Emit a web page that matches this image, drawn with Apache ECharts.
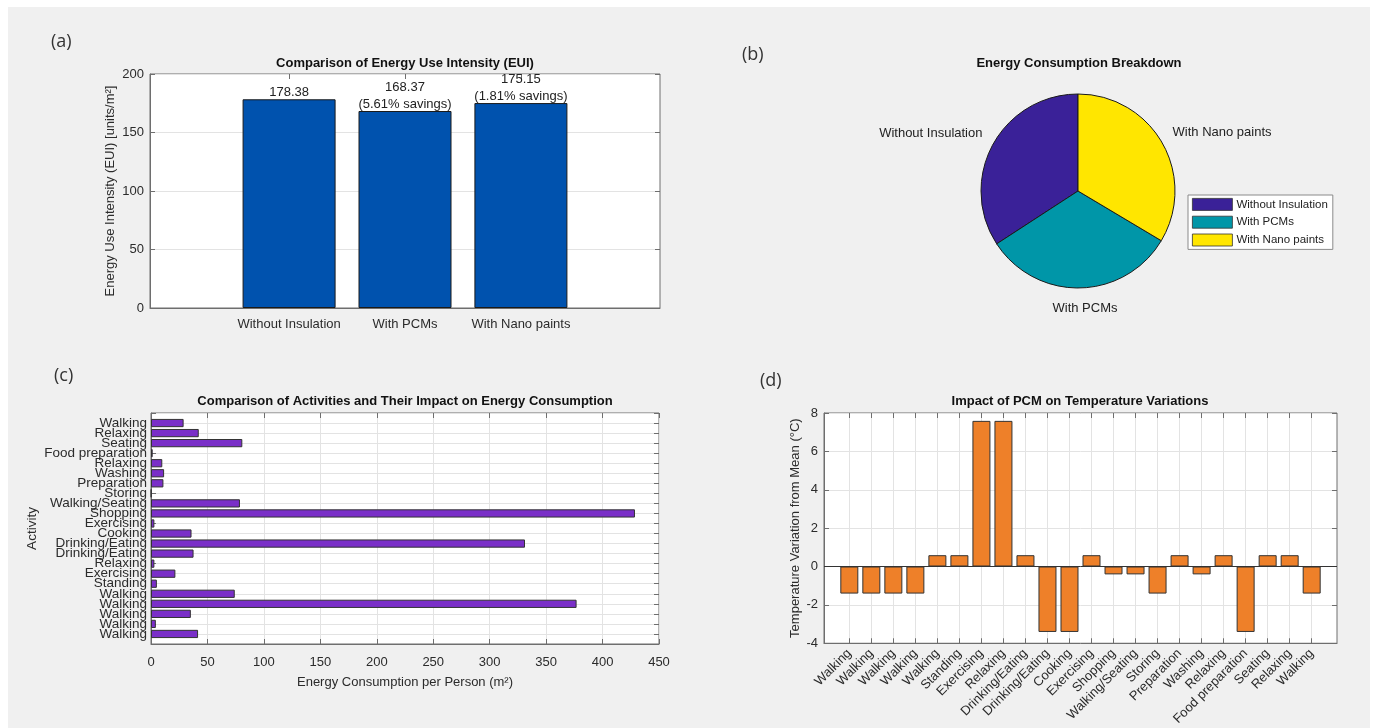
<!DOCTYPE html>
<html>
<head>
<meta charset="utf-8">
<script src="https://cdn.jsdelivr.net/npm/echarts@6/dist/echarts.min.js"></script>
<style>
  html, body { margin: 0; padding: 0; background: #ffffff; }
  #bg { position: absolute; left: 8px; top: 7px; width: 1362px; height: 721px; background: #f0f0f0; }
  #chart { position: absolute; left: 0; top: 0; width: 1373px; height: 728px; }
</style>
</head>
<body>
<div id="bg"></div>
<div id="chart"></div>
<script>
// ---------- data ----------
const euiCategories = ['Without Insulation', 'With PCMs', 'With Nano paints'];
const euiValues = [178.38, 168.37, 175.15];
const euiAxis = [0, 200, 50];            // min, max, interval

const activities = ['Walking', 'Walking', 'Walking', 'Walking', 'Walking', 'Standing',
  'Exercising', 'Relaxing', 'Drinking/Eating', 'Drinking/Eating', 'Cooking', 'Exercising',
  'Shopping', 'Walking/Seating', 'Storing', 'Preparation', 'Washing', 'Relaxing',
  'Food preparation', 'Seating', 'Relaxing', 'Walking'];
const energyPerPerson = [41.7, 4.3, 35.3, 377, 74.2, 5.2, 21.6, 3, 37.7, 331.3, 35.9, 3,
  428.7, 78.8, 0.3, 11, 11.6, 10, 1.5, 80.9, 42.3, 28.9];
const energyAxis = [0, 450, 50];

const tempVariation = [-1.41, -1.41, -1.41, -1.41, 0.59, 0.59, 7.59, 7.59, 0.59, -3.41, -3.41,
  0.59, -0.41, -0.41, -1.41, 0.59, -0.41, 0.59, -3.41, 0.59, 0.59, -1.41];
const tempAxis = [-4, 8, 2];

// ---------- styling ----------
const FONT = 'Liberation Sans, Arial, Helvetica, sans-serif';
const TXT = '#2b2b2b';
const AX = '#6e6e6e';
const GRIDC = '#e3e3e3';

const euiPos = euiCategories.map((_, i) => i + 1);
const actPos = activities.map((_, i) => i + 1);
const paddedActs = [''].concat(activities, ['']);
const paddedEnergy = [null].concat(energyPerPerson, [null]);

function tickStyle() { return { show: true, inside: true, length: 5, lineStyle: { color: AX } }; }
function axLine(show) { return { show: show, onZero: false, lineStyle: { color: AX } }; }

const chart = echarts.init(document.getElementById('chart'), null, { renderer: 'canvas' });

const panelFont = { fontSize: 18, fontWeight: 'normal', color: '#333', fontFamily: 'Open Sans, ' + FONT };
const titleFont = { fontSize: 13, fontWeight: 'bold', color: '#111', fontFamily: FONT };

const option = {
  backgroundColor: 'transparent',
  textStyle: { fontFamily: FONT },
  animation: false,
  title: [
    { text: '(a)', left: 51, top: 33, padding: 0, textStyle: panelFont },
    { text: 'Comparison of Energy Use Intensity (EUI)', left: 405, top: 57, padding: 0, textAlign: 'center', textStyle: titleFont },
    { text: '(b)', left: 742, top: 46, padding: 0, textStyle: panelFont },
    { text: 'Energy Consumption Breakdown', left: 1079, top: 57, padding: 0, textAlign: 'center', textStyle: titleFont },
    { text: '(c)', left: 54, top: 367, padding: 0, textStyle: panelFont },
    { text: 'Comparison of Activities and Their Impact on Energy Consumption', left: 405, top: 395, padding: 0, textAlign: 'center', textStyle: titleFont },
    { text: '(d)', left: 760, top: 372, padding: 0, textStyle: panelFont },
    { text: 'Impact of PCM on Temperature Variations', left: 1080, top: 395, padding: 0, textAlign: 'center', textStyle: titleFont }
  ],
  legend: {
    orient: 'vertical', left: 1188, top: 195,
    data: euiCategories,
    icon: 'rect', itemWidth: 40, itemHeight: 12, itemGap: 5,
    itemStyle: { borderWidth: 0.8, borderColor: '#333' },
    backgroundColor: '#ffffff', borderColor: '#8a8a8a', borderWidth: 1, borderRadius: 0,
    padding: [3, 5, 3, 4],
    textStyle: { fontSize: 11.5, color: '#222', fontFamily: FONT, padding: [0, 0, 0, -1] },
    selectedMode: false
  },
  grid: [
    { left: 150, top: 74, width: 510, height: 234, show: true, backgroundColor: '#fff', borderColor: AX, borderWidth: 1 },
    { left: 151, top: 413, width: 508, height: 231, show: true, backgroundColor: '#fff', borderColor: AX, borderWidth: 1 },
    { left: 824, top: 413, width: 513, height: 233, show: true, backgroundColor: '#fff', borderColor: AX, borderWidth: 1 }
  ],
  xAxis: [
    { type: 'value', gridIndex: 0, min: -0.2, max: 4.2,
      axisLine: axLine(true),
      axisTick: Object.assign(tickStyle(), { customValues: euiPos }),
      axisLabel: { customValues: euiPos, formatter: v => euiCategories[Math.round(v) - 1] || '',
        fontSize: 13, color: TXT, margin: 10 },
      splitLine: { show: false } },
    { type: 'value', gridIndex: 0, position: 'top', min: -0.2, max: 4.2,
      axisLine: axLine(false), axisTick: Object.assign(tickStyle(), { customValues: euiPos }),
      axisLabel: { show: false }, splitLine: { show: false } },
    { type: 'value', gridIndex: 1, min: energyAxis[0], max: energyAxis[1], interval: energyAxis[2],
      name: 'Energy Consumption per Person (m\u00b2)', nameLocation: 'middle', nameGap: 32,
      nameTextStyle: { fontSize: 13, color: TXT },
      axisLine: axLine(true), axisTick: tickStyle(),
      axisLabel: { fontSize: 13, color: TXT, margin: 12 },
      splitLine: { show: true, lineStyle: { color: GRIDC } } },
    { type: 'value', gridIndex: 1, position: 'top', min: energyAxis[0], max: energyAxis[1], interval: energyAxis[2],
      axisLine: axLine(false), axisTick: tickStyle(), axisLabel: { show: false }, splitLine: { show: false } },
    { type: 'value', gridIndex: 2, min: -0.15, max: 23.15,
      axisLine: axLine(true),
      axisTick: Object.assign(tickStyle(), { customValues: actPos }),
      axisLabel: { customValues: actPos, formatter: v => activities[Math.round(v) - 1] || '',
        rotate: 45, fontSize: 13, color: TXT, margin: 8 },
      splitLine: { show: true, lineStyle: { color: GRIDC } } },
    { type: 'value', gridIndex: 2, position: 'top', min: -0.15, max: 23.15,
      axisLine: axLine(false), axisTick: Object.assign(tickStyle(), { customValues: actPos }),
      axisLabel: { show: false }, splitLine: { show: false } }
  ],
  yAxis: [
    { type: 'value', gridIndex: 0, min: euiAxis[0], max: euiAxis[1], interval: euiAxis[2],
      name: 'Energy Use Intensity (EUI) [units/m\u00b2]', nameLocation: 'middle', nameGap: 33,
      nameTextStyle: { fontSize: 13, color: TXT },
      axisLine: axLine(true), axisTick: tickStyle(),
      axisLabel: { fontSize: 13, color: TXT, margin: 6 },
      splitLine: { show: true, lineStyle: { color: GRIDC } } },
    { type: 'value', gridIndex: 0, position: 'right', min: euiAxis[0], max: euiAxis[1], interval: euiAxis[2],
      axisLine: axLine(false), axisTick: tickStyle(), axisLabel: { show: false }, splitLine: { show: false } },
    { type: 'category', gridIndex: 1, data: paddedActs, boundaryGap: false,
      name: 'Activity', nameLocation: 'middle', nameGap: 112, nameTextStyle: { fontSize: 13.5, color: TXT },
      axisLine: axLine(true),
      axisTick: Object.assign(tickStyle(), { interval: 0 }),
      axisLabel: { interval: 0, fontSize: 13.5, color: TXT, margin: 4 },
      splitLine: { show: true, interval: 0, lineStyle: { color: GRIDC } } },
    { type: 'category', gridIndex: 1, position: 'right', data: paddedActs, boundaryGap: false,
      axisLine: axLine(false), axisTick: Object.assign(tickStyle(), { interval: 0 }),
      axisLabel: { show: false }, splitLine: { show: false } },
    { type: 'value', gridIndex: 2, min: tempAxis[0], max: tempAxis[1], interval: tempAxis[2],
      name: 'Temperature Variation from Mean (\u00b0C)', nameLocation: 'middle', nameGap: 22,
      nameTextStyle: { fontSize: 13, color: TXT },
      axisLine: axLine(true), axisTick: tickStyle(),
      axisLabel: { fontSize: 13, color: TXT, margin: 6 },
      splitLine: { show: true, lineStyle: { color: GRIDC } } },
    { type: 'value', gridIndex: 2, position: 'right', min: tempAxis[0], max: tempAxis[1], interval: tempAxis[2],
      axisLine: axLine(false), axisTick: tickStyle(), axisLabel: { show: false }, splitLine: { show: false } }
  ],
  series: [
    {
      type: 'bar', xAxisIndex: 0, yAxisIndex: 0,
      data: euiValues.map((v, i) => [euiPos[i], v]),
      barWidth: 93,
      itemStyle: { color: '#0052ae', borderColor: '#1a1a1a', borderWidth: 1 },
      label: {
        show: true, position: 'top', distance: -2, fontSize: 13, lineHeight: 17, color: '#222',
        formatter: p => {
          const v = p.value[1];
          if (p.dataIndex === 0) return v.toFixed(2);
          const s = (euiValues[0] - v) / euiValues[0] * 100;
          return v.toFixed(2) + '\n(' + s.toFixed(2) + '% savings)';
        }
      }
    },
    {
      type: 'pie', center: [1078, 191], radius: 97, startAngle: 90, clockwise: false,
      data: euiCategories.map((n, i) => ({ name: n, value: euiValues[i] })),
      color: ['#3a2198', '#0096a8', '#ffe600'],
      itemStyle: { borderColor: '#1a1a1a', borderWidth: 1 },
      label: { show: true, position: 'outside', fontSize: 13, color: '#222', fontFamily: FONT },
      labelLine: { show: false, length: 6, length2: 0 },
      labelLayout: p => (p.dataIndex === 1 ? { align: 'center', dy: 14 } : { dy: -8 }),
      emphasis: { disabled: true }
    },
    {
      type: 'bar', xAxisIndex: 2, yAxisIndex: 2,
      data: paddedEnergy,
      barCategoryGap: '18%',
      itemStyle: { color: '#7a2fc8', borderColor: '#333', borderWidth: 1 }
    },
    {
      type: 'bar', xAxisIndex: 4, yAxisIndex: 4,
      data: tempVariation.map((v, i) => [actPos[i], v]),
      barWidth: 18,
      itemStyle: { color: '#ee8029', borderColor: '#333', borderWidth: 1 },
      markLine: {
        silent: true, symbol: ['none', 'none'], label: { show: false },
        lineStyle: { color: '#333', width: 1, type: 'solid' },
        data: [{ yAxis: 0 }]
      }
    }
  ]
};
chart.setOption(option);
</script>
</body>
</html>
